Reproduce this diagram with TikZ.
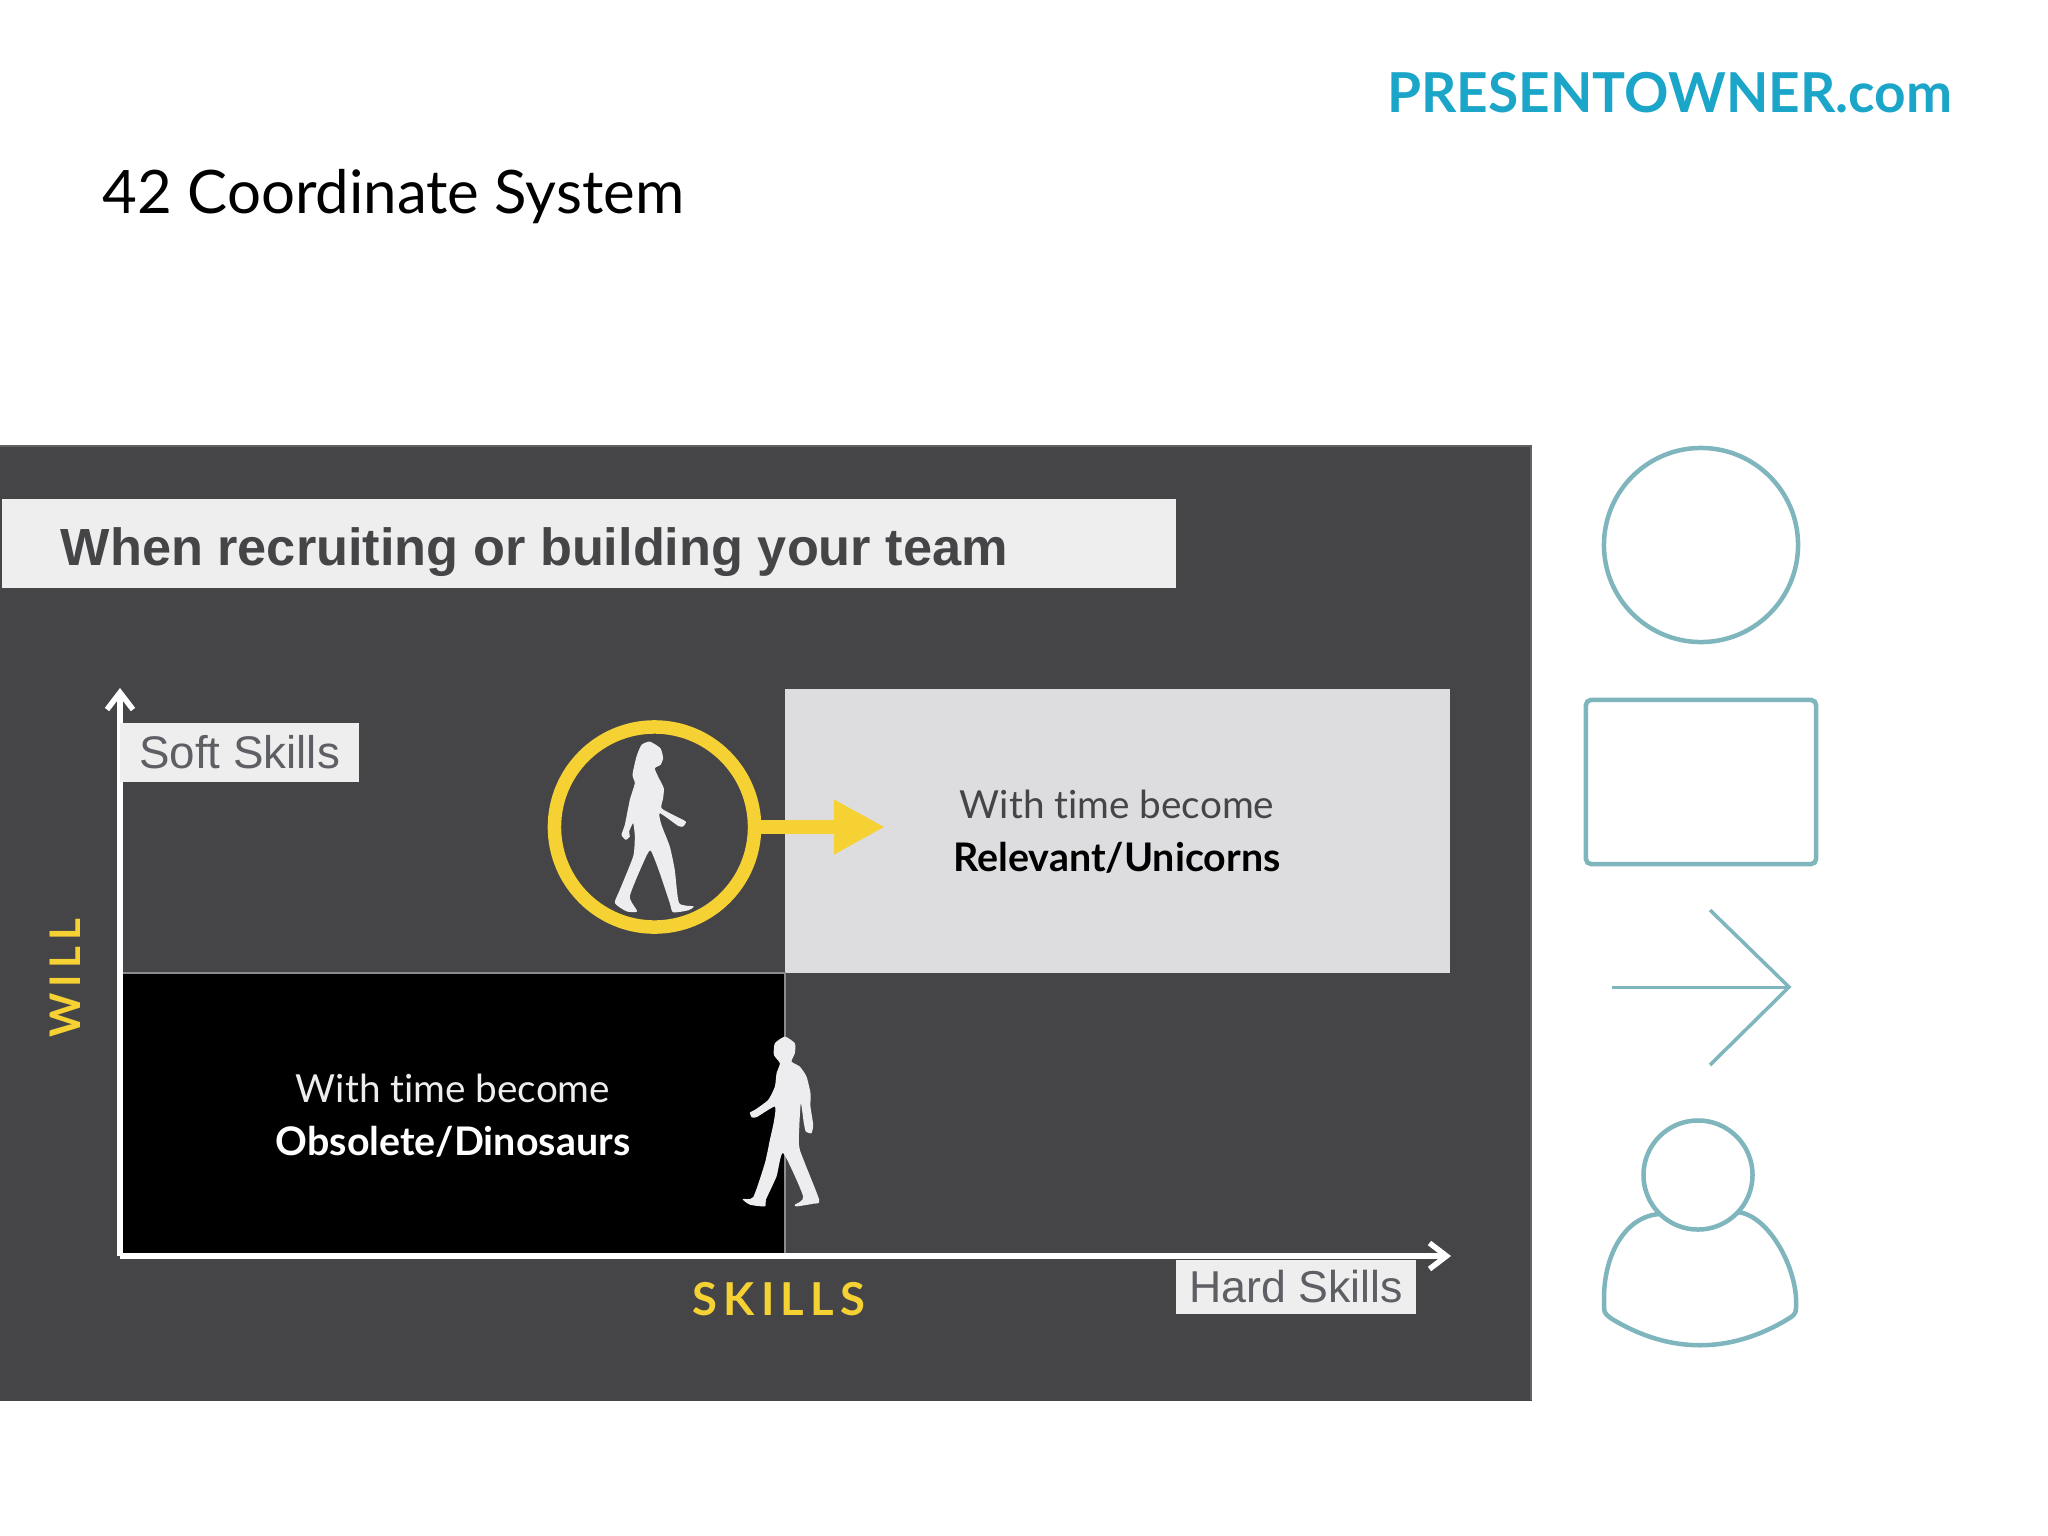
\documentclass[tikz,border=0pt]{standalone}
\usepackage{fontspec}
\setmainfont{Lato}[Ligatures=NoCommon]
\newfontfamily\heros{Liberation Sans}
\newfontfamily\spaced[LetterSpace=14]{Lato}
\usetikzlibrary{arrows.meta}
\definecolor{panel}{HTML}{454547}
\definecolor{bannerfill}{HTML}{EEEEEF}
\definecolor{lightq}{HTML}{DDDDE0}
\definecolor{gold}{HTML}{F5D133}
\definecolor{teal}{HTML}{7FB5BD}
\definecolor{logo}{HTML}{1BA6C9}
\definecolor{figure}{HTML}{EDEDEF}
\definecolor{greytext}{HTML}{5E5F64}
\definecolor{gridline}{HTML}{8C8C8E}
\tikzset{
 flat/.style={inner sep=0,outer sep=0,draw=none},
 tagbox/.style={flat,fill=bannerfill,text=greytext,font=\heros\fontsize{12.7}{15}\selectfont},
 qlabel/.style={inner sep=0,outer sep=0,font=\fontsize{11}{14}\selectfont},
 icon/.style={draw=teal,line width=0.045cm,fill=none},
 axis/.style={white,line width=0.055cm,-{Straight Barb[length=0.17cm,width=0.26cm,line width=0.055cm]}},
 axislabel/.style={inner sep=0,outer sep=0,text=gold,font=\spaced\bfseries\fontsize{12}{14}\selectfont},
 figfill/.style={fill=figure,draw=none},
}
\begin{document}
\begin{tikzpicture}[x=0.01cm,y=-0.01cm]
\useasboundingbox (0,0) rectangle (2048,1536);
\fill[white] (0,0) rectangle (2048,1536);
% header
\node[inner sep=0,anchor=base east,text=logo,font=\bfseries\fontsize{15.65}{18}\selectfont] (logotext) at (1953,112) {PRESENTOWNER.com};
\node[inner sep=0,anchor=base west,text=black,font=\fontsize{17.05}{20}\selectfont] (title) at (102,213) {42 Coordinate System};
% panel
\node[flat,fill=panel,anchor=north west,minimum width=15.31cm,minimum height=9.54cm] (panelbg) at (0,446) {};
\draw[gridline!70!black,line width=0.02cm] (0,446) -- (1531,446) -- (1531,1400);
% banner
\node[flat,fill=bannerfill,anchor=north west,minimum width=11.73cm,minimum height=0.89cm] (banner) at (2,499) {};
\node[inner sep=0,anchor=base west,text=panel,font=\heros\bfseries\fontsize{14.87}{18}\selectfont] (bannertext) at (60,565) {When recruiting or building your team};
% quadrants
\node[flat,fill=lightq,anchor=north west,minimum width=6.65cm,minimum height=2.84cm] (topright) at (785,689) {};
\node[flat,fill=black,anchor=north west,minimum width=6.63cm,minimum height=2.81cm] (bottomleft) at (122,973) {};
\draw[gridline,line width=0.02cm] (122,973) -- (785,973) -- (785,1254);
\node[qlabel,text=panel,align=center] (q1) at (1117,832) {With time become\\[1.1pt]{\fontsize{11.2}{14}\selectfont\bfseries\textcolor{black}{Relevant/Unicorns}}};
\node[qlabel,text=figure,align=center] (q2) at (453,1116) {With time become\\[1.1pt]{\fontsize{11.2}{14}\selectfont\bfseries\textcolor{white}{Obsolete/Dinosaurs}}};
% axes
\coordinate (origin) at (120,1256);
\coordinate (ytip) at (120,688);
\coordinate (xtip) at (1451,1256);
\draw[axis] (origin) -- (ytip);
\draw[axis] (origin) -- (xtip);
\node[tagbox,font=\heros\fontsize{13}{15}\selectfont,anchor=north west,minimum width=2.39cm,minimum height=0.59cm] (soft) at (120,723) {Soft Skills};
\node[tagbox,anchor=north west,minimum width=2.40cm,minimum height=0.54cm] (hard) at (1176,1260) {Hard Skills};
\node[axislabel,font=\spaced\bfseries\fontsize{12.9}{14}\selectfont] (skillslabel) at (779,1299) {SKILLS};
\node[axislabel,rotate=90] (willlabel) at (65,978) {WILL};
% yellow ring and arrow
\node[circle,draw=gold,line width=0.135cm,fill=none,inner sep=0,outer sep=0,minimum size=2.0cm] (ring) at (654.5,827) {};
\coordinate (arrowtip) at (885,827);
\draw[gold,line width=0.14cm,-{Triangle[length=0.51cm,width=0.51cm]}] (ring.east) -- (arrowtip);
% woman
\begin{scope}[shift={(520,700)},x=0.00333cm,y=-0.00333cm]
\fill[figure] plot[smooth cycle,tension=0.35] coordinates {(390,125)(422,145)(430,175)(422,195)(405,205)(415,230)(432,265)(430,295)(425,325)(460,345)(498,365)(490,380)(475,378)(420,340)(425,375)(450,440)(465,510)(478,610)(522,620)(505,632)(460,638)(450,610)(420,520)(392,452)(370,490)(330,590)(352,635)(320,635)(285,610)(300,570)(340,470)(345,410)(340,370)(328,395)(330,410)(318,420)(305,405)(315,375)(330,300)(345,250)(338,225)(350,170)(365,135)};
\end{scope}
% man
\begin{scope}[shift={(700,1010)},x=0.00333cm,y=-0.00333cm]
\fill[figure] plot[smooth cycle,tension=0.35] coordinates {(255,80)(285,100)(285,130)(275,155)(300,170)(320,200)(332,250)(332,290)(340,345)(335,370)(318,365)(312,340)(303,280)(298,360)(300,420)(358,570)(340,582)(290,590)(285,585)(310,560)(250,430)(230,500)(198,570)(195,590)(150,585)(128,568)(160,562)(195,460)(210,390)(222,335)(225,290)(170,322)(155,322)(150,308)(165,300)(205,270)(225,230)(230,190)(240,160)(222,135)(225,100)};
\end{scope}
% icons
\node[circle,icon,inner sep=0,outer sep=0,minimum size=1.94cm] (iconcircle) at (1701,545) {};
\node[icon,rounded corners=0.05cm,inner sep=0,outer sep=0,minimum width=2.3cm,minimum height=1.64cm] (iconrect) at (1701,782) {};
\coordinate (iarrowstart) at (1612,987);
\coordinate (iarrowtip) at (1789,987);
\coordinate (iarrowtop) at (1710,910);
\coordinate (iarrowbot) at (1710,1065);
\draw[icon,line width=0.03cm] (iarrowstart) -- (iarrowtip);
\draw[icon,line width=0.035cm,line join=miter] (iarrowtop) -- (iarrowtip) -- (iarrowbot);
\node[circle,icon,inner sep=0,outer sep=0,minimum size=1.09cm] (iconhead) at (1698,1175) {};
\draw[icon,line join=round] (1660,1214) .. controls (1625,1216) and (1604,1255) .. (1604,1298) -- (1604,1308) .. controls (1604,1314) and (1608,1316) .. (1612,1319) .. controls (1670,1354) and (1730,1354) .. (1788,1319) .. controls (1793,1316) and (1796,1314) .. (1796,1308) -- (1796,1298) .. controls (1794,1263) and (1768,1216) .. (1738,1212);
\end{tikzpicture}
\end{document}
